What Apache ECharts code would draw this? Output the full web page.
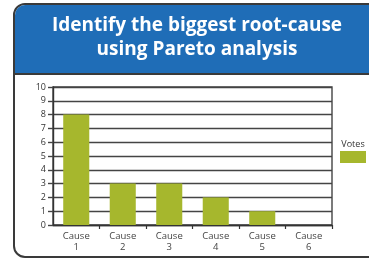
<!DOCTYPE html>
<html>
<head>
<meta charset="utf-8">
<style>
html,body{margin:0;padding:0;background:#fff;}
#chart{width:369px;height:260px;}
</style>
<script src="https://cdn.jsdelivr.net/npm/echarts@6/dist/echarts.min.js"></script>
</head>
<body>
<div id="chart"></div>
<script>
const titleLines = ['Identify the biggest root-cause', 'using Pareto analysis'];
const categories = ['Cause\n1', 'Cause\n2', 'Cause\n3', 'Cause\n4', 'Cause\n5', 'Cause\n6'];
const votes = [8, 3, 3, 2, 1, 0];
const seriesName = 'Votes';
const yTicks = { min: 0, max: 10, interval: 1 };

const chart = echarts.init(document.getElementById('chart'), null, { renderer: 'canvas' });
const green = '#a6b72d';
const font = '"Open Sans", "Noto Sans", sans-serif';

chart.setOption({
  animation: false,
  backgroundColor: '#fff',
  graphic: [
    { type: 'rect', z: -10, shape: { x: 14, y: 4, width: 420, height: 253, r: 11 },
      style: { fill: '#fff', stroke: '#3a3a3a', lineWidth: 2 } },
    { type: 'rect', z: -9, shape: { x: 15, y: 5, width: 420, height: 68, r: [10, 0, 0, 0] },
      style: { fill: '#1f6db7' } },
    { type: 'line', z: -8, shape: { x1: 14, y1: 74, x2: 369, y2: 74 },
      style: { stroke: '#3a3a3a', lineWidth: 2 } },
    { type: 'text', z: 5, x: 197, y: 26,
      style: { text: titleLines[0], fill: '#fff', font: 'bold 19px ' + font, textAlign: 'center', textVerticalAlign: 'middle' } },
    { type: 'text', z: 5, x: 197, y: 50,
      style: { text: titleLines[1], fill: '#fff', font: 'bold 19px ' + font, textAlign: 'center', textVerticalAlign: 'middle' } },
    { type: 'text', z: 5, x: 353, y: 144,
      style: { text: seriesName, fill: '#333', font: '9px ' + font, textAlign: 'center', textVerticalAlign: 'middle' } }
  ],
  legend: {
    data: [seriesName],
    left: 340, top: 151,
    itemWidth: 26, itemHeight: 12,
    icon: 'rect',
    padding: 0,
    formatter: () => '',
    textStyle: { fontSize: 1 },
    selectedMode: false
  },
  grid: {
    left: 53, right: 37, top: 87, bottom: 35,
    show: true, borderColor: '#444', borderWidth: 1.4, backgroundColor: '#fff'
  },
  xAxis: {
    type: 'category',
    data: categories,
    axisLine: { lineStyle: { color: '#333', width: 1.4 } },
    axisTick: { show: true, length: 4, interval: (i) => i > 0 && i < 6, lineStyle: { color: '#333', width: 1.2 } },
    axisLabel: { color: '#444', fontSize: 9.5, lineHeight: 11, margin: 6, fontFamily: font }
  },
  yAxis: {
    type: 'value',
    min: yTicks.min, max: yTicks.max, interval: yTicks.interval,
    axisLine: { show: true, lineStyle: { color: '#333', width: 1.4 } },
    axisTick: { show: true, length: 5, lineStyle: { color: '#444', width: 1.4 } },
    splitLine: { lineStyle: { color: '#444', width: 1.4 } },
    axisLabel: { color: '#333', fontSize: 9, margin: 7, fontFamily: font }
  },
  series: [{
    name: seriesName,
    type: 'bar',
    data: votes,
    barWidth: '56%',
    itemStyle: { color: green }
  }]
});
</script>
</body>
</html>
